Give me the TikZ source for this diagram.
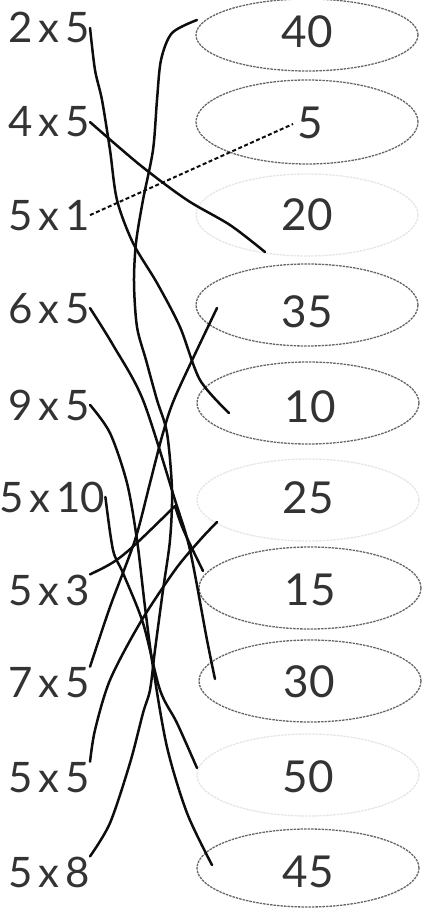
\documentclass[tikz,border=0pt]{standalone}
\usepackage{fontspec}
\setmainfont{Lato}
\usetikzlibrary{shapes.geometric}
\newcommand\tmsx{\hspace{6pt}x\hspace{6pt}}
\begin{document}
\begin{tikzpicture}[x=1pt,y=-1pt,
  lab/.style={font=\fontsize{42}{42}\selectfont, text=black!80, inner sep=0pt, anchor=base west},
  num/.style={font=\fontsize{44}{44}\selectfont, text=black!80, inner sep=0pt, anchor=base},
  ring/.style={ellipse, draw=black!60, line width=1.3pt, dash pattern=on 2.5pt off 1pt, minimum width=222pt, minimum height=82pt, inner sep=0pt},
  faint/.style={ring, draw=black!10},
  link/.style={draw=black!95, line width=2.5pt, line cap=round, line join=round},
  dlink/.style={link, line width=2pt, line cap=butt, dash pattern=on 4pt off 2.5pt},
]
\useasboundingbox (0,0) rectangle (422,909);

% ellipses
\node[ring, minimum height=72pt] (e40) at (307,35) {};
\node[ring, minimum height=84pt] (e5)  at (307,122) {};
\node[faint] (e20) at (307,215) {};
\node[ring] (e35) at (307,305) {};
\node[ring] (e10) at (308,403) {};
\node[faint] (e25) at (308,500) {};
\node[ring] (e15) at (310,588) {};
\node[ring] (e30) at (310,681) {};
\node[faint] (e50) at (308,775) {};
\node[ring, minimum height=78pt] (e45) at (308,868) {};

% numbers
\node[num] (n40) at (307,48) {40};
\node[num] (n5)  at (310,139) {5};
\node[num] (n20) at (307,230) {20};
\node[num] (n35) at (307,327) {35};
\node[num] (n10) at (310,422) {10};
\node[num] (n25) at (308,513) {25};
\node[num] (n15) at (310,605) {15};
\node[num] (n30) at (309,697) {30};
\node[num] (n50) at (308,792) {50};
\node[num] (n45) at (308,887) {45};

% left labels
\node[lab] (a1)  at (8,43)  {2\tmsx 5};
\node[lab] (a2)  at (8,137) {4\tmsx 5};
\node[lab] (a3)  at (8,230) {5\tmsx 1};
\node[lab] (a4)  at (8,323) {6\tmsx 5};
\node[lab] (a5)  at (8,420) {9\tmsx 5};
\node[lab] (a6)  at (-1,512) {5\tmsx 10};
\node[lab] (a7)  at (8,605) {5\tmsx 3};
\node[lab] (a8)  at (8,697) {7\tmsx 5};
\node[lab] (a9)  at (8,792) {5\tmsx 5};
\node[lab] (a10) at (8,887) {5\tmsx 8};

% free ends of the hand-drawn lines
\coordinate (t10) at (229,413);
\coordinate (t20) at (265,252);
\coordinate (t5)  at (293,124);
\coordinate (t40) at (197,20);
\coordinate (t30) at (215,679);
\coordinate (t45) at (212,865);
\coordinate (t50) at (197,768);
\coordinate (t35) at (217,308);
\coordinate (t25) at (217,522);
\coordinate (t15) at (203,571);

% connectors
\draw[link] plot[smooth] coordinates {(a1.east) (95,70) (102,100) (110,150) (117,200) (133,243) (157,283) (180,327) (200,380) (t10)};
\draw[link] plot[smooth] coordinates {(a2.east) (140,165) (187,200) (230,225) (t20)};
\draw[dlink] (a3.east) -- (t5);
\draw[link] plot[smooth] coordinates {(a4.east) (113,345) (143,400) (175,500) (190,550) (207,640) (t30)};
\draw[link] plot[smooth] coordinates {(a5.east) (110,433) (127,483) (137,540) (145,607) (153,667) (167,747) (187,813) (t45)};
\draw[link] plot[smooth] coordinates {(a6.east) (113,550) (123,573) (143,623) (160,690) (177,723) (t50)};
\draw[link] (a7.north east) .. controls (120,560) .. (175,506) .. controls (182,528) .. (t15);
\draw[link] plot[smooth] coordinates {(a8.north east) (110,607) (135,540) (150,483) (163,433) (176,395) (t35)};
\draw[link] plot[smooth] coordinates {(a9.north east) (95,730) (110,680) (140,623) (175,570) (200,540) (t25)};
\draw[link] plot[smooth] coordinates {(a10.north east) (110,823) (130,763) (143,713) (150,690) (155,650) (163,590) (170,540) (172,490) (167,433) (157,400) (146,360) (137,327) (134,283) (136,243) (143,200) (153,150) (157,100) (161,60) (172,33) (t40)};
\end{tikzpicture}
\end{document}
